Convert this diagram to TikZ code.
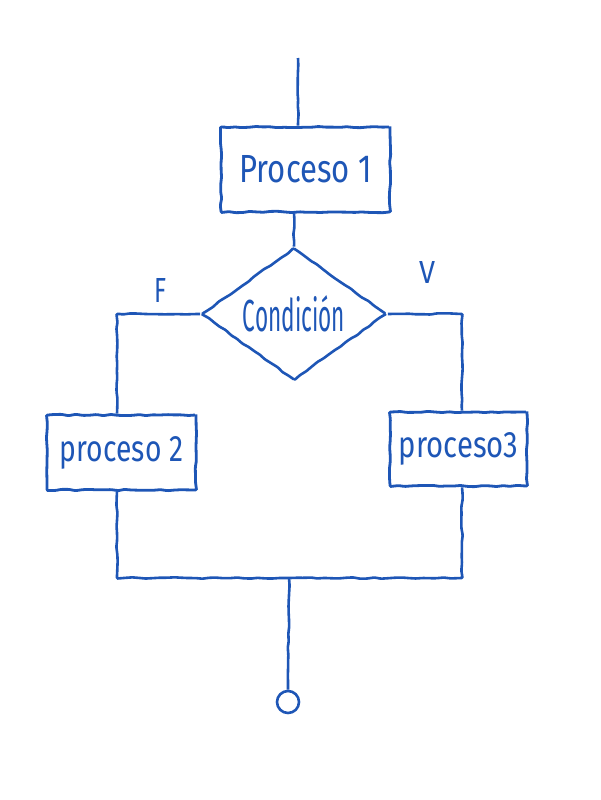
\documentclass[tikz,border=0pt]{standalone}
\usepackage{fontspec}
\setmainfont{Fira Sans}
\usetikzlibrary{shapes.geometric,decorations.pathmorphing}
\definecolor{ink}{RGB}{30,86,182}
\newcommand{\hw}[3]{\resizebox{#1pt}{#2pt}{#3}}
\begin{document}
\begin{tikzpicture}[x=1pt,y=-1pt,
  sk/.style={decorate,decoration={random steps,segment length=7pt,amplitude=0.7pt},rounded corners=1pt},
  line/.style={draw=ink,line width=2.6pt,sk},
  box/.style={draw=ink,line width=2.8pt,rectangle,inner sep=0pt,text=ink,sk},
  cond/.style={draw=ink,line width=2.6pt,diamond,aspect=1.4,inner sep=0pt,minimum width=185pt,minimum height=132pt,text=ink,sk},
  lbl/.style={text=ink,inner sep=0pt}]
\pgfmathsetseed{7}
\useasboundingbox (0,0) rectangle (600,800);
\coordinate (top) at (298,58);
\node[box,minimum width=169pt,minimum height=85pt] (p1) at (305.5,169.5) {\hw{132}{27}{Proceso 1}};
\node[cond] (c) at (294,314) {\hw{102}{36}{Condición}};
\node[box,minimum width=149pt,minimum height=75pt] (p2) at (121.5,452.5) {\hw{123}{25}{proceso 2}};
\node[box,minimum width=137pt,minimum height=74pt] (p3) at (458.5,449) {\hw{119}{25}{proceso3}};
\node[lbl] (F) at (160,290) {\hw{12}{24}{F}};
\node[lbl] (V) at (427,272) {\hw{16}{22}{V}};
\coordinate (j) at (289,578);
\node[draw=ink,line width=2.6pt,circle,minimum size=22pt,inner sep=0pt] (end) at (288,702) {};
\draw[line] (top) -- (top |- p1.north);
\draw[line] (p1.south -| c.north) -- (c.north);
\draw[line] (c.west) -| ([xshift=-4.5pt]p2.north);
\draw[line] (c.east) -| ([xshift=3.5pt]p3.north);
\draw[line] ([xshift=-4.5pt]p2.south) |- (j) -| ([xshift=3.5pt]p3.south);
\draw[line] (j) -- (end.north);
\end{tikzpicture}
\end{document}
